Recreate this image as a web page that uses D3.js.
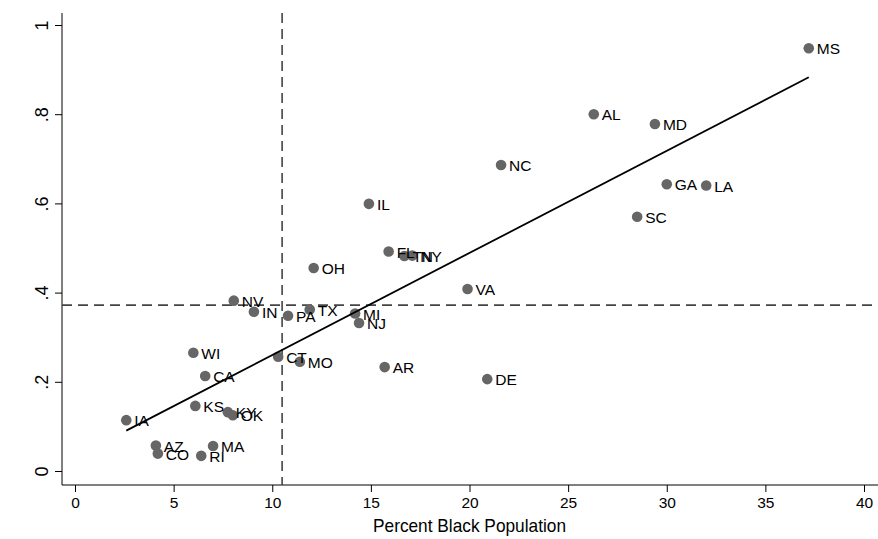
<!DOCTYPE html>
<html>
<head>
<meta charset="utf-8">
<script src="https://cdnjs.cloudflare.com/ajax/libs/d3/7.8.5/d3.min.js"></script>
<style>
  body { margin: 0; background: #fff; }
  svg { display: block; font-family: "Liberation Sans", Arial, sans-serif; }
</style>
</head>
<body>
<div id="chart"></div>
<script>
// state labels, percent black population, y value
var states = ['MS','AL','MD','NC','GA','LA','SC','IL','FL','TN','NY','OH','VA','NV','IN','TX','PA','MI','NJ',
              'CT','MO','WI','CA','AR','DE','KS','KY','OK','IA','AZ','MA','CO','RI'];
var pctBlack = [37.2,26.3,29.4,21.6,30.0,32.0,28.5,14.9,15.9,16.7,17.1,12.1,19.9,8.05,9.07,11.9,10.8,14.2,14.4,
                10.3,11.4,6.0,6.6,15.7,20.9,6.1,7.75,8.0,2.6,4.1,7.0,4.2,6.4];
var yValue = [0.948,0.800,0.778,0.686,0.643,0.640,0.570,0.599,0.492,0.482,0.483,0.455,0.408,0.382,0.357,0.362,0.348,0.353,0.332,
              0.256,0.245,0.265,0.213,0.233,0.206,0.146,0.132,0.125,0.114,0.057,0.056,0.039,0.034];

var xTicks = [0,5,10,15,20,25,30,35,40];
var yTicks = [0,0.2,0.4,0.6,0.8,1];
var yTickLabels = ['0','.2','.4','.6','.8','1'];

// reference lines (means) and fitted line
var xMean = 10.5;
var yMean = 0.372;
var fitIntercept = 0.031;
var fitSlope = 0.0229;

var width = 878, height = 539;

var svg = d3.select('#chart').append('svg')
    .attr('width', width)
    .attr('height', height);

var x = d3.scaleLinear().domain([0, 40]).range([75, 864]);
var y = d3.scaleLinear().domain([0, 1]).range([471, 25]);

var axisX = 62, axisY = 485, plotTop = 13, plotRight = 878;

// y axis
var yAxis = svg.append('g')
    .attr('transform', 'translate(' + axisX + ',0)')
    .call(d3.axisLeft(y).tickValues(yTicks).tickSize(7).tickSizeOuter(0)
        .tickFormat(function(d, i) { return yTickLabels[i]; }));
yAxis.select('.domain').attr('d', 'M0,' + plotTop + 'V' + axisY).attr('stroke', '#000');
yAxis.selectAll('.tick line').attr('stroke', '#000');
yAxis.selectAll('.tick text')
    .attr('transform', 'rotate(-90)')
    .attr('x', 0)
    .attr('y', -14)
    .attr('dy', 0)
    .attr('text-anchor', 'middle')
    .style('font-size', '18px')
    .style('font-family', '"Liberation Sans", Arial, sans-serif')
    .attr('fill', '#000');

// x axis
var xAxis = svg.append('g')
    .attr('transform', 'translate(0,' + axisY + ')')
    .call(d3.axisBottom(x).tickValues(xTicks).tickSize(7).tickSizeOuter(0));
xAxis.select('.domain').attr('d', 'M' + axisX + ',0H' + plotRight).attr('stroke', '#000');
xAxis.selectAll('.tick line').attr('stroke', '#000');
xAxis.selectAll('.tick text')
    .attr('y', 12)
    .attr('dy', '0.71em')
    .style('font-size', '15.5px')
    .style('font-family', '"Liberation Sans", Arial, sans-serif')
    .attr('fill', '#000');

svg.append('text')
    .attr('x', x(20))
    .attr('y', 532)
    .attr('text-anchor', 'middle')
    .attr('textLength', 193)
    .attr('lengthAdjust', 'spacingAndGlyphs')
    .style('font-size', '19px')
    .text('Percent Black Population');

// mean reference lines
svg.append('line')
    .attr('x1', x(xMean)).attr('x2', x(xMean))
    .attr('y1', plotTop).attr('y2', axisY)
    .attr('stroke', '#444').attr('stroke-width', 1.6)
    .attr('stroke-dasharray', '10,6');

svg.append('line')
    .attr('x1', axisX).attr('x2', plotRight)
    .attr('y1', y(yMean)).attr('y2', y(yMean))
    .attr('stroke', '#444').attr('stroke-width', 1.6)
    .attr('stroke-dasharray', '10,6');

// points
var data = states.map(function(s, i) { return {st: s, px: pctBlack[i], val: yValue[i]}; });

svg.append('g').selectAll('circle')
    .data(data)
    .join('circle')
    .attr('cx', function(d) { return x(d.px); })
    .attr('cy', function(d) { return y(d.val); })
    .attr('r', 5.3)
    .attr('fill', '#666');

// fitted line over data range
var xr = d3.extent(pctBlack);
svg.append('line')
    .attr('x1', x(xr[0])).attr('y1', y(fitIntercept + fitSlope * xr[0]))
    .attr('x2', x(xr[1])).attr('y2', y(fitIntercept + fitSlope * xr[1]))
    .attr('stroke', '#000').attr('stroke-width', 1.8);

svg.append('g').selectAll('text')
    .data(data)
    .join('text')
    .attr('x', function(d) { return x(d.px) + 8; })
    .attr('y', function(d) { return y(d.val) + 6; })
    .style('font-size', '15.5px')
    .attr('fill', '#000')
    .text(function(d) { return d.st; });
</script>
</body>
</html>
